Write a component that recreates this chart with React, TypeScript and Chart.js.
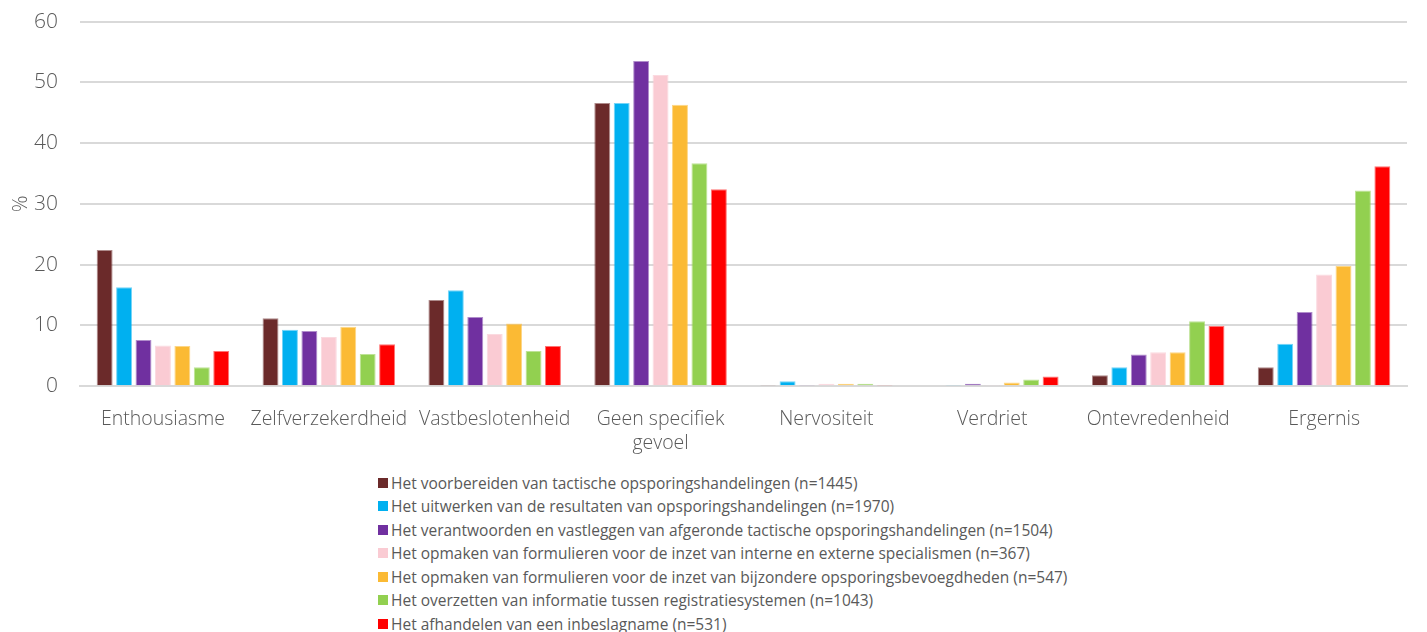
import React, { useEffect, useRef } from "react";
import { Chart, registerables } from "chart.js";

Chart.register(...registerables);

const categories: (string | string[])[] = [
  "Enthousiasme",
  "Zelfverzekerdheid",
  "Vastbeslotenheid",
  ["Geen specifiek", "gevoel"],
  "Nervositeit",
  "Verdriet",
  "Ontevredenheid",
  "Ergernis",
];

const seriesNames = [
  "Het voorbereiden van tactische opsporingshandelingen (n=1445)",
  "Het uitwerken van de resultaten van opsporingshandelingen (n=1970)",
  "Het verantwoorden en vastleggen van afgeronde tactische opsporingshandelingen (n=1504)",
  "Het opmaken van formulieren voor de inzet van interne en externe specialismen (n=367)",
  "Het opmaken van formulieren voor de inzet van bijzondere opsporingsbevoegdheden (n=547)",
  "Het overzetten van informatie tussen registratiesystemen (n=1043)",
  "Het afhandelen van een inbeslagname (n=531)",
];

const voorbereiden = [22.4, 11.2, 14.2, 46.6, 0.2, 0, 1.8, 3.1];
const uitwerken = [16.3, 9.3, 15.8, 46.6, 0.8, 0.2, 3.1, 7.0];
const verantwoorden = [7.6, 9.1, 11.4, 53.5, 0.2, 0.4, 5.2, 12.2];
const specialismen = [6.7, 8.1, 8.6, 51.2, 0.4, 0.2, 5.6, 18.4];
const bijzondere = [6.6, 9.8, 10.3, 46.3, 0.4, 0.6, 5.6, 19.8];
const overzetten = [3.1, 5.3, 5.8, 36.7, 0.4, 1.1, 10.7, 32.2];
const inbeslagname = [5.8, 6.9, 6.6, 32.4, 0.2, 1.6, 9.9, 36.2];

const seriesValues = [voorbereiden, uitwerken, verantwoorden, specialismen, bijzondere, overzetten, inbeslagname];
const seriesColors = ["#6B2A2A", "#00B0F0", "#7030A0", "#FACBD3", "#FBBA34", "#92D050", "#FF0000"];
const seriesEdges = [
  "rgba(107,42,42,0.55)",
  "rgba(0,176,240,0.55)",
  "rgba(112,48,160,0.55)",
  "rgba(250,203,211,0.7)",
  "rgba(251,186,52,0.6)",
  "rgba(146,208,80,0.6)",
  "rgba(255,0,0,0.55)",
];

const yTicks = [0, 10, 20, 30, 40, 50, 60];

const FONT = "'Open Sans', 'Noto Sans', sans-serif";
const TEXT = "#595959";

export default function App() {
  const ref = useRef<HTMLCanvasElement | null>(null);

  useEffect(() => {
    if (!ref.current) return;
    const chart = new Chart(ref.current, {
      type: "bar",
      data: {
        labels: categories,
        datasets: seriesNames.map((name, i) => ({
          label: name,
          data: seriesValues[i],
          backgroundColor: seriesColors[i],
          borderColor: seriesEdges[i],
          borderWidth: 1,
          barPercentage: 0.82,
          categoryPercentage: 0.82,
        })),
      },
      options: {
        responsive: true,
        maintainAspectRatio: false,
        animation: false,
        layout: { padding: { left: 0, right: 12, top: -15, bottom: 0 } },
        plugins: {
          legend: { display: false },
          tooltip: { enabled: false },
        },
        scales: {
          x: {
            grid: { display: false, drawTicks: false },
            border: { display: true, color: "#D9D9D9", width: 2 },
            ticks: {
              color: TEXT,
              font: { family: FONT, size: 19.5, weight: 300 as any },
              padding: 22,
              maxRotation: 0,
              autoSkip: false,
            },
          },
          y: {
            min: 0,
            max: 60,
            afterBuildTicks: (s: any) => {
              s.ticks = yTicks.map((v) => ({ value: v }));
            },
            afterFit: (s: any) => {
              s.width = 72;
            },
            grid: { color: "#D9D9D9", lineWidth: 2, drawTicks: false },
            border: { display: false },
            ticks: {
              color: TEXT,
              font: { family: FONT, size: 21, weight: 300 as any },
              padding: 22,
            },
            title: {
              display: true,
              text: "%",
              color: TEXT,
              font: { family: FONT, size: 21, weight: 300 as any },
              padding: 0,
            },
          },
        },
      },
    });
    return () => chart.destroy();
  }, []);

  return (
    <div style={{ width: 1411, fontFamily: FONT }}>
      <div style={{ position: "relative", width: 1411, height: 490, marginTop: -21 }}>
        <canvas ref={ref} />
      </div>
      <div style={{ paddingLeft: 370, marginTop: -6 }}>
        {seriesNames.map((name, i) => (
          <div
            key={name}
            style={{
              display: "flex",
              alignItems: "center",
              height: 23.5,
              fontSize: 15.5,
              color: TEXT,
              whiteSpace: "nowrap",
            }}
          >
            <span
              style={{
                display: "inline-block",
                width: 10,
                height: 10,
                background: seriesColors[i],
                marginRight: 3,
              }}
            />
            <span>{name}</span>
          </div>
        ))}
      </div>
    </div>
  );
}
